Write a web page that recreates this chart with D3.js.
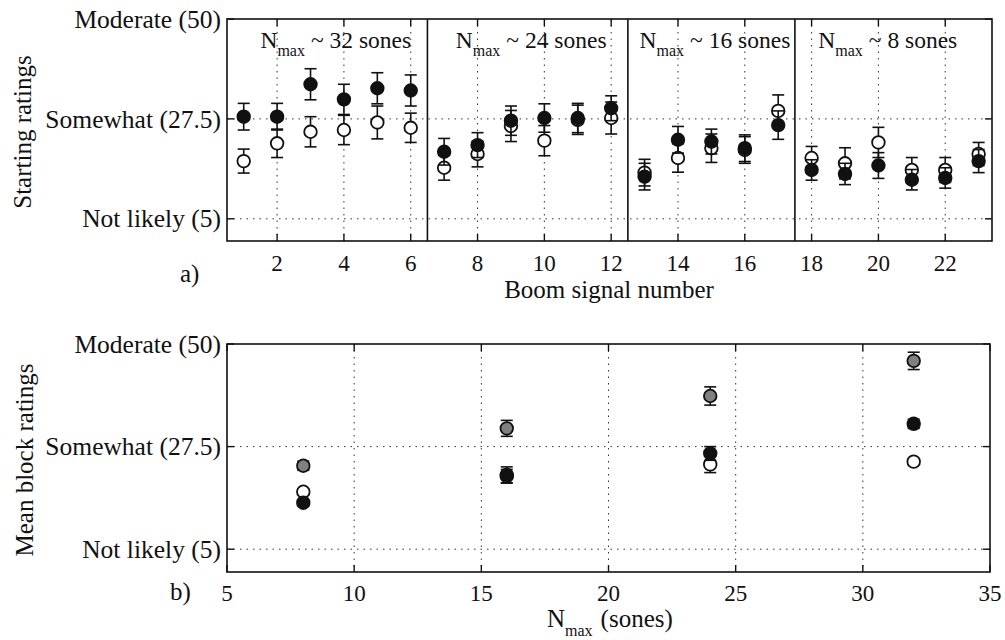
<!DOCTYPE html>
<html><head><meta charset="utf-8">
<script src="https://d3js.org/d3.v7.min.js"></script>
<style>body{margin:0;background:#fff}text{font-family:"Liberation Serif","Times New Roman",serif;fill:#111}</style>
</head><body><svg id="c" width="1005" height="640"></svg>
<script>
// ---- data (panel a) ----
const signals = [1,2,3,4,5,6,7,8,9,10,11,12,13,14,15,16,17,18,19,20,21,22,23];
const filledVals = [28.0,28.0,35.3,31.9,34.4,33.9,20.1,21.6,27.1,27.7,27.7,29.9,14.5,22.8,22.4,20.9,26.1,16.0,15.1,17.0,13.8,14.2,18.0];
const filledErr  = [3.0,3.0,3.5,3.4,3.5,3.5,3.0,2.8,3.3,3.2,3.3,2.8,3.0,3.0,2.8,3.0,3.2,2.3,2.4,2.9,2.3,2.3,2.6];
const openVals   = [18.0,22.0,24.6,25.0,26.7,25.5,16.5,19.6,25.9,22.6,27.3,27.7,15.4,18.7,20.9,20.5,29.3,18.7,17.5,22.2,16.0,16.0,19.6];
const openErr    = [2.7,3.2,3.4,3.3,3.7,3.3,2.8,2.9,3.5,3.4,3.3,3.6,3.0,3.2,3.2,3.0,3.6,2.6,3.5,3.4,2.8,2.8,2.6];
const blockBounds = [6.5,12.5,17.5];
const blockLabels = ["~ 32 sones","~ 24 sones","~ 16 sones","~ 8 sones"];
const blockLabelAt = [1.5,7.35,12.85,18.2];
const topTicks = [2,4,6,8,10,12,14,16,18,20,22];
// ---- data (panel b) ----
const nmax = [8,16,24,32];
const grayVals = [23.3,31.5,38.6,46.3];
const grayErr  = [1.0,1.75,2.0,1.9];
const blkFilled = [15.2,21.3,26.0,32.5];
const blkFilledErr = [0.6,1.75,1.5,1.0];
const blkOpen = [17.6,21.0,23.6,24.2];
const blkOpenErr = [0.6,1.5,1.8,0.6];
const botTicks = [5,10,15,20,25,30,35];
// ---- shared ----
const yTickVals = [5,27.5,50];
const yTickLabels = ["Not likely (5)","Somewhat (27.5)","Moderate (50)"];

const svg = d3.select("#c");
const FS = 25;

function panel(cfg){
  const g = svg.append("g");
  const x = cfg.x, y = cfg.y;
  const [x0,x1] = x.range(), [y1,y0] = y.range();
  // grid
  g.selectAll(null).data(cfg.gridX).join("line")
    .attr("x1",d=>x(d)).attr("x2",d=>x(d)).attr("y1",y0).attr("y2",y1)
    .attr("stroke","#333").attr("stroke-width",1).attr("stroke-dasharray","1.5,5");
  g.selectAll(null).data([5,27.5]).join("line")
    .attr("x1",x0).attr("x2",x1).attr("y1",d=>y(d)).attr("y2",d=>y(d))
    .attr("stroke","#333").attr("stroke-width",1).attr("stroke-dasharray","1.5,5");
  // frame
  g.append("rect").attr("x",x0).attr("y",y0).attr("width",x1-x0).attr("height",y1-y0)
    .attr("fill","none").attr("stroke","#111").attr("stroke-width",1.6);
  // ticks
  const tl = 7;
  cfg.ticksX.forEach(t=>{
    g.append("line").attr("x1",x(t)).attr("x2",x(t)).attr("y1",y1).attr("y2",y1-tl).attr("stroke","#111").attr("stroke-width",1.4);
    g.append("line").attr("x1",x(t)).attr("x2",x(t)).attr("y1",y0).attr("y2",y0+tl).attr("stroke","#111").attr("stroke-width",1.4);
    g.append("text").attr("x",x(t)).attr("y",y1+cfg.tickDy).attr("text-anchor","middle").attr("font-size",23).text(t);
  });
  yTickVals.forEach((t,i)=>{
    g.append("line").attr("x1",x0).attr("x2",x0+tl).attr("y1",y(t)).attr("y2",y(t)).attr("stroke","#111").attr("stroke-width",1.4);
    g.append("line").attr("x1",x1).attr("x2",x1-tl).attr("y1",y(t)).attr("y2",y(t)).attr("stroke","#111").attr("stroke-width",1.4);
    g.append("text").attr("x",x0-6).attr("y",y(t)).attr("dy","0.34em").attr("text-anchor","end").attr("font-size",25.5).text(yTickLabels[i]);
  });
  return g;
}

function drawSeries(g,x,y,xs,vals,errs,fill,cap,r){
  const d = xs.map((v,i)=>({x:v,v:vals[i],e:errs[i]}));
  const eg = g.append("g").attr("stroke","#111").attr("stroke-width",1.6);
  d.forEach(p=>{
    eg.append("line").attr("x1",x(p.x)).attr("x2",x(p.x)).attr("y1",y(p.v-p.e)).attr("y2",y(p.v+p.e));
    eg.append("line").attr("x1",x(p.x)-cap).attr("x2",x(p.x)+cap).attr("y1",y(p.v-p.e)).attr("y2",y(p.v-p.e));
    eg.append("line").attr("x1",x(p.x)-cap).attr("x2",x(p.x)+cap).attr("y1",y(p.v+p.e)).attr("y2",y(p.v+p.e));
  });
  g.selectAll(null).data(d).join("circle")
    .attr("cx",p=>x(p.x)).attr("cy",p=>y(p.v)).attr("r",r)
    .attr("fill",fill).attr("stroke","#111").attr("stroke-width",1.8);
}

// ---- panel a ----
const xa = d3.scaleLinear().domain([0.5,23.4]).range([227,992]);
const ya = d3.scaleLinear().domain([0,50]).range([241,19]);
const ga = panel({x:xa,y:ya,gridX:topTicks,ticksX:topTicks,tickDy:30});
ga.selectAll(null).data(blockBounds).join("line")
  .attr("x1",d=>xa(d)).attr("x2",d=>xa(d)).attr("y1",19).attr("y2",241)
  .attr("stroke","#111").attr("stroke-width",1.6);
blockLabels.forEach((lab,i)=>{
  const t = ga.append("text").attr("x",xa(blockLabelAt[i])).attr("y",48).attr("font-size",23.5);
  t.append("tspan").text("N");
  t.append("tspan").attr("font-size",16).attr("dy",8).text("max");
  t.append("tspan").attr("dy",-8).attr("dx",6).text(lab);
});
drawSeries(ga,xa,ya,signals,openVals,openErr,"#fff",6,6.3);
drawSeries(ga,xa,ya,signals,filledVals,filledErr,"#111",6,6.3);
svg.append("text").attr("x",180).attr("y",282).attr("font-size",FS).text("a)");
svg.append("text").attr("x",609).attr("y",298).attr("text-anchor","middle").attr("font-size",FS).text("Boom signal number");
svg.append("text").attr("transform","translate(31,132) rotate(-90)").attr("text-anchor","middle").attr("font-size",FS).text("Starting ratings");

// ---- panel b ----
const xb = d3.scaleLinear().domain([5,35]).range([227,990]);
const yb = d3.scaleLinear().domain([0,50]).range([572,344]);
const gb = panel({x:xb,y:yb,gridX:[10,15,20,25,30],ticksX:botTicks,tickDy:29});
drawSeries(gb,xb,yb,nmax,blkOpen,blkOpenErr,"#fff",6,6.3);
drawSeries(gb,xb,yb,nmax,blkFilled,blkFilledErr,"#111",6,6.3);
drawSeries(gb,xb,yb,nmax,grayVals,grayErr,"#808080",6,6.3);
svg.append("text").attr("x",170).attr("y",600).attr("font-size",FS).text("b)");
const nt = svg.append("text").attr("x",547).attr("y",627).attr("font-size",FS);
nt.append("tspan").text("N");
nt.append("tspan").attr("font-size",16).attr("dy",9).text("max");
nt.append("tspan").attr("dy",-9).attr("dx",8).text("(sones)");
svg.append("text").attr("transform","translate(33,460) rotate(-90)").attr("text-anchor","middle").attr("font-size",FS).text("Mean block ratings");
</script></body></html>
